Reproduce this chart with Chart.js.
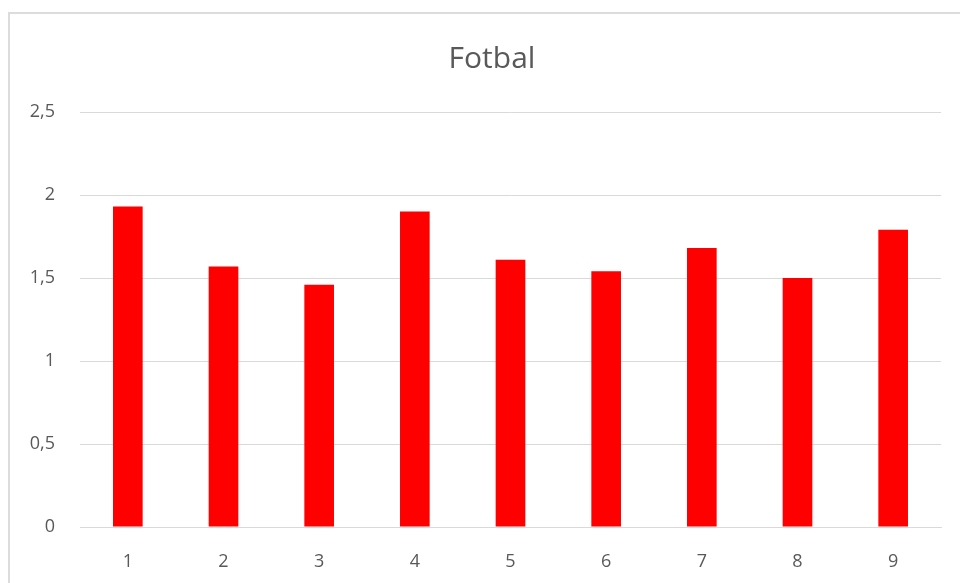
<!DOCTYPE html>
<html>
<head>
<meta charset="utf-8">
<script src="https://cdn.jsdelivr.net/npm/chart.js@4/dist/chart.umd.min.js"></script>
<style>
  html, body { margin: 0; padding: 0; background: #ffffff; overflow: hidden; }
  #frame { position: absolute; left: 8px; top: 12px; width: 1100px; height: 800px;
           border: 2px solid #dcdcdc; box-sizing: border-box; }
  #wrap { position: absolute; left: 0; top: 0; width: 960px; height: 583px; }
</style>
</head>
<body>
<div id="frame"></div>
<div id="wrap"><canvas id="chart" width="960" height="583"></canvas></div>
<script>
// Match numbers 1–9
const categories = ['1', '2', '3', '4', '5', '6', '7', '8', '9'];
// Average per match
const values = [1.93, 1.57, 1.46, 1.90, 1.61, 1.54, 1.68, 1.50, 1.79];
const yTicks = [0, 0.5, 1, 1.5, 2, 2.5];
const chartTitle = 'Fotbal';

const textColor = '#595959';
const gridColor = '#d9d9d9';
const fontFamily = '"Open Sans", "DejaVu Sans", sans-serif';

// Center the title over the framed area rather than the whole canvas
const titleShift = {
  id: 'titleShift',
  afterLayout(chart) {
    if (chart.titleBlock) {
      chart.titleBlock.left += 24;
      chart.titleBlock.right += 19;
    }
  }
};

new Chart(document.getElementById('chart'), {
  type: 'bar',
  data: {
    labels: categories,
    datasets: [{
      data: values,
      backgroundColor: '#ff0000',
      borderWidth: 0,
      categoryPercentage: 1,
      barPercentage: 0.31
    }]
  },
  plugins: [titleShift],
  options: {
    responsive: false,
    animation: false,
    devicePixelRatio: 1,
    layout: { padding: { left: 0, right: 19, top: 0, bottom: 0 } },
    plugins: {
      legend: { display: false },
      tooltip: { enabled: false },
      title: {
        display: true,
        text: chartTitle,
        color: textColor,
        font: { family: fontFamily, size: 30, weight: 'normal', lineHeight: 1.2 },
        padding: { top: 41, bottom: 35 }
      }
    },
    scales: {
      x: {
        grid: { display: false, drawTicks: false },
        border: { display: true, color: gridColor, width: 1 },
        ticks: {
          color: textColor,
          font: { family: fontFamily, size: 18 },
          padding: 24
        },
        afterFit: s => { s.height = 56; }
      },
      y: {
        min: yTicks[0],
        max: yTicks[yTicks.length - 1],
        afterBuildTicks: s => { s.ticks = yTicks.map(v => ({ value: v })); },
        grid: { color: gridColor, lineWidth: 1, drawTicks: false },
        border: { display: false },
        ticks: {
          color: textColor,
          font: { family: fontFamily, size: 18 },
          padding: 25,
          callback: v => String(v).replace('.', ',')
        },
        afterFit: s => { s.width = 80; }
      }
    }
  }
});
</script>
</body>
</html>
